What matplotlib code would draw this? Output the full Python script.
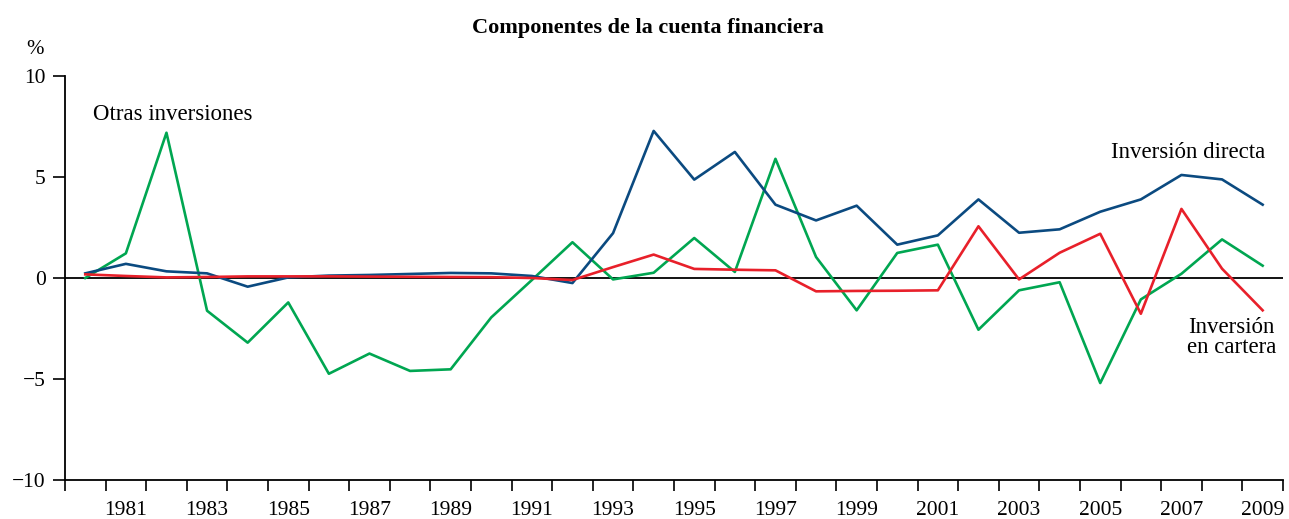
import matplotlib
matplotlib.use("Agg")
import matplotlib.pyplot as plt

years = list(range(1980, 2010))

inversion_directa = [0.23, 0.70, 0.33, 0.23, -0.43, 0.03, 0.12, 0.15, 0.20, 0.25,
                     0.23, 0.10, -0.25, 2.22, 7.28, 4.87, 6.24, 3.63, 2.85, 3.58,
                     1.65, 2.11, 3.89, 2.24, 2.41, 3.28, 3.89, 5.10, 4.88, 3.63]

inversion_cartera = [0.18, 0.10, 0.03, 0.05, 0.08, 0.08, 0.08, 0.07, 0.06, 0.05,
                     0.04, 0.00, -0.10, 0.54, 1.16, 0.45, 0.41, 0.38, -0.66, -0.64,
                     -0.63, -0.61, 2.56, -0.07, 1.25, 2.19, -1.77, 3.42, 0.46, -1.60]

otras_inversiones = [0.00, 1.22, 7.19, -1.62, -3.20, -1.21, -4.74, -3.74, -4.60, -4.52,
                     -1.95, -0.10, 1.77, -0.07, 0.26, 1.98, 0.30, 5.90, 1.04, -1.60,
                     1.24, 1.65, -2.56, -0.61, -0.21, -5.20, -1.06, 0.21, 1.91, 0.61]

tick_years = list(range(1981, 2010, 2))
ytick_vals = [-10, -5, 0, 5, 10]

BLUE = "#0b4a80"
RED = "#e8202a"
GREEN = "#00a651"

plt.rcParams["font.family"] = ["Liberation Serif", "DejaVu Serif"]

fig = plt.figure(figsize=(12.89, 5.19), dpi=100)
ax = fig.add_axes([0.0504, 0.0751, 0.9449, 0.7785])

ax.axhline(0, color="black", lw=1.3, zorder=1)
ax.plot(years, otras_inversiones, color=GREEN, lw=1.9, zorder=2)
ax.plot(years, inversion_directa, color=BLUE, lw=1.9, zorder=3)
ax.plot(years, inversion_cartera, color=RED, lw=1.9, zorder=4)

ax.set_xlim(1979.5, 2009.5)
ax.set_ylim(-10, 10)

for s in ["top", "right"]:
    ax.spines[s].set_visible(False)
ax.spines["left"].set_linewidth(1.3)
ax.spines["bottom"].set_linewidth(1.3)

# year boundaries get the tick marks, labels sit in the middle of each year
ax.set_xticks([y - 0.5 for y in range(1980, 2011)])
ax.set_xticklabels([])
ax.set_xticks(tick_years, minor=True)
ax.set_xticklabels([str(y) for y in tick_years], minor=True)
ax.tick_params(axis="x", which="major", direction="out", length=8, width=1.2)
ax.tick_params(axis="x", which="minor", length=0, pad=15, labelsize=15.5)

ax.set_yticks(ytick_vals)
ax.set_yticklabels(["\u221210", "\u22125", "0", "5", "10"])
ax.tick_params(axis="y", direction="out", length=9, width=1.2, pad=5, labelsize=15.5)

ax.text(1980.2, 8.07, "Otras inversiones", fontsize=16.5, ha="left", va="center")
ax.text(2009.06, 6.19, "Inversión directa", fontsize=16.5, ha="right", va="center")
ax.text(2009.33, -2.95, "Inversión\nen cartera", fontsize=16.5, ha="right", va="center",
        multialignment="center", linespacing=0.95)

fig.text(0.503, 0.947, "Componentes de la cuenta financiera", fontsize=16,
         fontweight="bold", ha="center", va="center")
fig.text(0.027, 0.905, "%", fontsize=15, ha="center", va="center")

fig.savefig("out.png", dpi=100)
